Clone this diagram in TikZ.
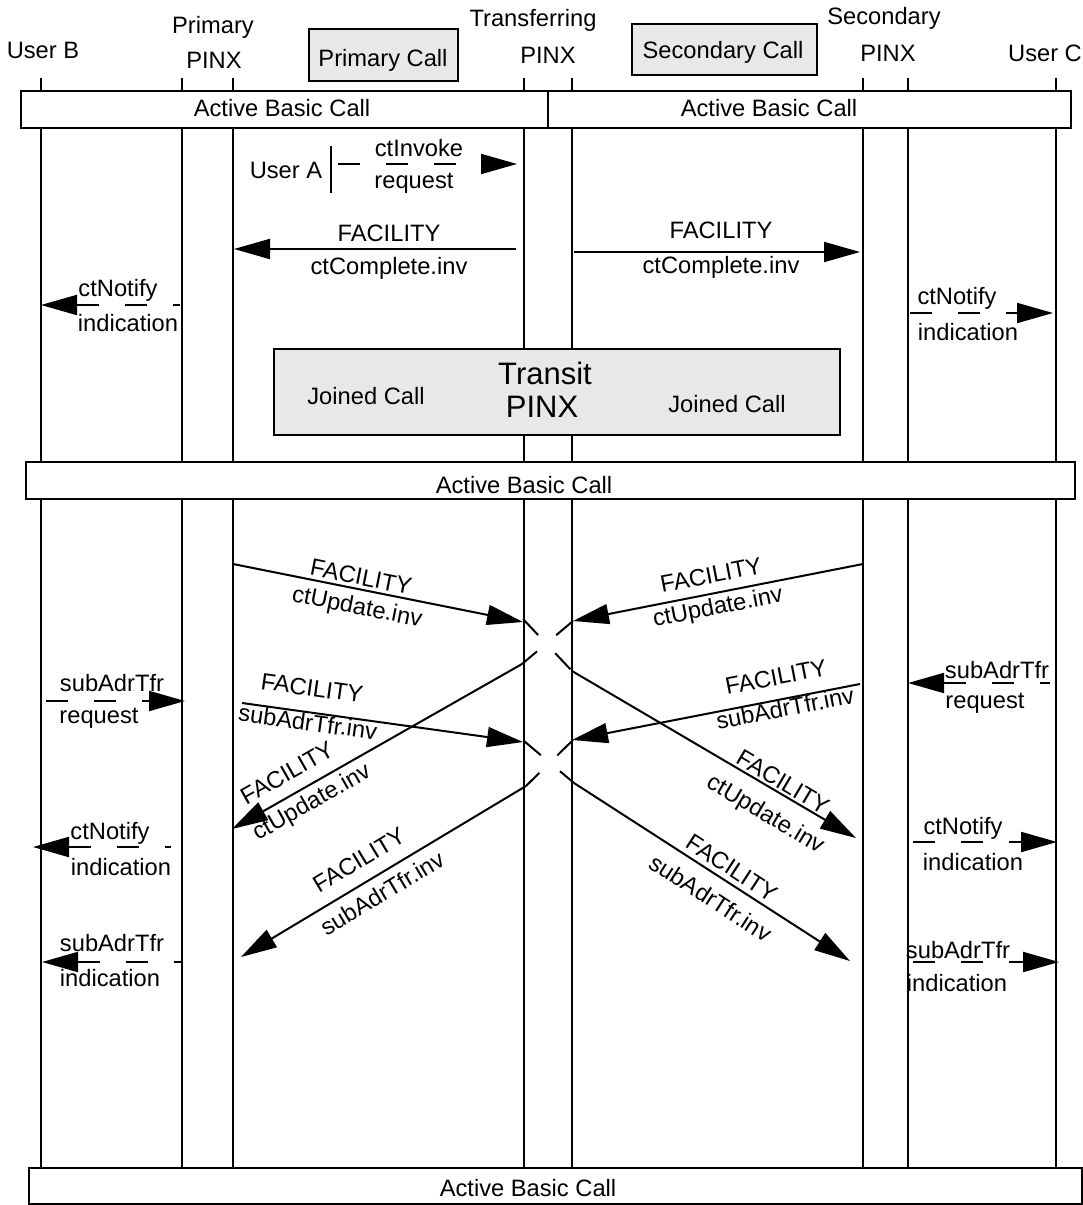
\documentclass[tikz,border=0pt]{standalone}
\usepackage{fontspec}
\setmainfont{Liberation Sans}
\usetikzlibrary{arrows.meta}
\begin{document}
\begin{tikzpicture}[x=1pt,y=-1pt, line width=2pt,
  lbl/.style={inner sep=0pt, font=\fontsize{23.7pt}{28pt}\selectfont},
  big/.style={inner sep=0pt, font=\fontsize{31pt}{36pt}\selectfont},
  whitebox/.style={draw, fill=white, line width=2pt, inner sep=0pt},
  graybox/.style={draw, fill=black!9, line width=2.4pt, inner sep=0pt},
  tip/.style={-{Triangle[length=36pt,width=20pt]}},
  rtip/.style={{Triangle[length=36pt,width=20pt]}-},
  dsh/.style={dash pattern=on 22pt off 26pt},
  pass/.style={dash pattern=on 22pt off 25pt},
]
\useasboundingbox (0,0) rectangle (1083,1205);

% lifelines
\foreach \n/\x in {B/41, P1/182, P2/233, T1/524, T2/572, S1/863, S2/908, C/1056} {
  \coordinate (\n-top) at (\x,78);
  \coordinate (\n-bot) at (\x,1168);
  \draw (\n-top) -- (\n-bot);
}

% header labels
\node[lbl] (hB) at (43,50) {User B};
\node[lbl] (hP1) at (213,27) {Primary};
\node[lbl] (hP2) at (214,60) {PINX};
\node[lbl] (hT1) at (533,20) {Transferring};
\node[lbl] (hT2) at (548,55) {PINX};
\node[lbl] (hS1) at (884,18) {Secondary};
\node[lbl] (hS2) at (888,53) {PINX};
\node[lbl] (hC) at (1045,53) {User C};

\node[graybox, minimum width=149pt, minimum height=52pt] (pcall) at (383.5,55) {};
\node[lbl] (pcallt) at (383,60) {Primary Call};
\node[graybox, minimum width=185pt, minimum height=51pt] (scall) at (724.5,49.5) {};
\node[lbl] (scallt) at (723,52) {Secondary Call};

% active basic call boxes
\node[whitebox, minimum width=527pt, minimum height=37pt] (abc1) at (284.5,109.5) {};
\node[lbl] (abc1t) at (282,108) {Active Basic Call};
\node[whitebox, minimum width=523pt, minimum height=37pt] (abc2) at (809.5,109.5) {};
\node[lbl] (abc2t) at (769,108) {Active Basic Call};
\node[whitebox, minimum width=1049pt, minimum height=37pt] (abc3) at (550.5,480.5) {};
\node[lbl] (abc3t) at (524,485) {Active Basic Call};
\node[whitebox, minimum width=1053pt, minimum height=36pt] (abc4) at (555.5,1186) {};
\node[lbl] (abc4t) at (528,1188) {Active Basic Call};

% transit box
\node[graybox, minimum width=566pt, minimum height=86pt] (transit) at (557,392) {};
\node[big] (tr1) at (545,373) {Transit};
\node[big] (tr2) at (542,407) {PINX};
\node[lbl] (jc1) at (366,396) {Joined Call};
\node[lbl] (jc2) at (727,404) {Joined Call};

% ---- upper messages
\node[lbl] (usera) at (286,170) {User A};
\coordinate (bar-t) at (331,146);
\coordinate (bar-b) at (331,193);
\draw (bar-t) -- (bar-b);
\coordinate (inv-s) at (331,164);
\coordinate (inv-e) at (517,164);
\draw[rtip, dsh, dash phase=22pt] (inv-e) -- (inv-s);
\node[lbl] (inv1) at (419,148) {ctInvoke};
\node[lbl] (inv2) at (414,183) {request};

\coordinate (cc1-s) at (516,249);
\coordinate (cc1-e) at (234,249);
\draw[tip] (cc1-s) -- (cc1-e);
\node[lbl] (cc1a) at (389,233) {FACILITY};
\node[lbl] (cc1b) at (389,268) {ctComplete.inv};

\coordinate (cc2-s) at (574,252);
\coordinate (cc2-e) at (860,252);
\draw[tip] (cc2-s) -- (cc2-e);
\node[lbl] (cc2a) at (721,230) {FACILITY};
\node[lbl] (cc2b) at (721,267) {ctComplete.inv};

\coordinate (cn1-s) at (180,305);
\coordinate (cn1-e) at (41,305);
\draw[rtip, dsh] (cn1-e) -- (cn1-s);
\node[lbl] (cn1a) at (118,290) {ctNotify};
\node[lbl] (cn1b) at (128,323) {indication};

\coordinate (cn2-s) at (910,313);
\coordinate (cn2-e) at (1053,313);
\draw[tip, dsh] (cn2-s) -- (cn2-e);
\node[lbl] (cn2a) at (957,298) {ctNotify};
\node[lbl] (cn2b) at (968,332) {indication};

% ---- lower messages: FACILITY crossings
\coordinate (u1-s) at (233,564);
\coordinate (u1-e) at (523,622);
\draw[tip] (u1-s) -- (u1-e);
\node[lbl, rotate=-11.3] (u1a) at (361,577) {FACILITY};
\node[lbl, rotate=-11.3] (u1b) at (357,608) {ctUpdate.inv};

\coordinate (u2-s) at (863,564);
\coordinate (u2-e) at (573,621);
\draw[tip] (u2-s) -- (u2-e);
\node[lbl, rotate=11] (u2a) at (711,575) {FACILITY};
\node[lbl, rotate=11] (u2b) at (718,608) {ctUpdate.inv};

\coordinate (p1-a) at (523,619);
\coordinate (p1-b) at (572,671);
\coordinate (p1-e) at (856,838);
\draw[pass] (p1-a) -- (p1-b);
\draw[tip] (p1-b) -- (p1-e);
\node[lbl, rotate=-30.6] (p1x) at (783,782) {FACILITY};
\node[lbl, rotate=-30.6] (p1y) at (765,815) {ctUpdate.inv};

\coordinate (p2-a) at (573,621);
\coordinate (p2-b) at (522,664);
\coordinate (p2-e) at (232,829);
\draw[pass] (p2-a) -- (p2-b);
\draw[tip] (p2-b) -- (p2-e);
\node[lbl, rotate=29.6] (p2x) at (287,773) {FACILITY};
\node[lbl, rotate=29.6] (p2y) at (312,803) {ctUpdate.inv};

\coordinate (l1-s) at (242,703);
\coordinate (l1-e) at (523,742);
\draw[tip] (l1-s) -- (l1-e);
\node[lbl, rotate=-7.9] (l1a) at (312,688) {FACILITY};
\node[lbl, rotate=-7.9] (l1b) at (308,722) {subAdrTfr.inv};

\coordinate (l2-s) at (860,684);
\coordinate (l2-e) at (572,740);
\draw[tip] (l2-s) -- (l2-e);
\node[lbl, rotate=11] (l2a) at (776,677) {FACILITY};
\node[lbl, rotate=11] (l2b) at (785,708) {subAdrTfr.inv};

\coordinate (q1-a) at (524,741);
\coordinate (q1-b) at (574,783);
\coordinate (q1-e) at (850,961);
\draw[pass] (q1-a) -- (q1-b);
\draw[tip] (q1-b) -- (q1-e);
\node[lbl, rotate=-33] (q1x) at (732,868) {FACILITY};
\node[lbl, rotate=-33] (q1y) at (711,898) {subAdrTfr.inv};

\coordinate (q2-a) at (573,740);
\coordinate (q2-b) at (526,786);
\coordinate (q2-e) at (241,957);
\draw[pass] (q2-a) -- (q2-b);
\draw[tip] (q2-b) -- (q2-e);
\node[lbl, rotate=31] (q2x) at (359,860) {FACILITY};
\node[lbl, rotate=31] (q2y) at (382,893) {subAdrTfr.inv};

% ---- lower dashed side messages
\coordinate (sr1-s) at (41,701);
\coordinate (sr1-e) at (185,701);
\draw[tip, dsh, dash phase=43pt] (sr1-s) -- (sr1-e);
\node[lbl] (sr1a) at (112,683) {subAdrTfr};
\node[lbl] (sr1b) at (99,718) {request};

\coordinate (cn3-s) at (171,847);
\coordinate (cn3-e) at (33,847);
\draw[rtip, dsh] (cn3-e) -- (cn3-s);
\node[lbl] (cn3a) at (110,833) {ctNotify};
\node[lbl] (cn3b) at (121,867) {indication};

\coordinate (si1-s) at (182,962);
\coordinate (si1-e) at (42,962);
\draw[rtip, dsh] (si1-e) -- (si1-s);
\node[lbl] (si1a) at (112,943) {subAdrTfr};
\node[lbl] (si1b) at (110,978) {indication};

\coordinate (sr2-s) at (1050,683);
\coordinate (sr2-e) at (908,683);
\draw[rtip, dsh] (sr2-e) -- (sr2-s);
\node[lbl] (sr2a) at (997,670) {subAdrTfr};
\node[lbl] (sr2b) at (985,703) {request};

\coordinate (cn4-s) at (913,842);
\coordinate (cn4-e) at (1057,842);
\draw[tip, dsh] (cn4-s) -- (cn4-e);
\node[lbl] (cn4a) at (963,828) {ctNotify};
\node[lbl] (cn4b) at (973,862) {indication};

\coordinate (si2-s) at (913,962);
\coordinate (si2-e) at (1059,962);
\draw[tip, dsh] (si2-s) -- (si2-e);
\node[lbl] (si2a) at (958,950) {subAdrTfr};
\node[lbl] (si2b) at (957,983) {indication};

\end{tikzpicture}
\end{document}
